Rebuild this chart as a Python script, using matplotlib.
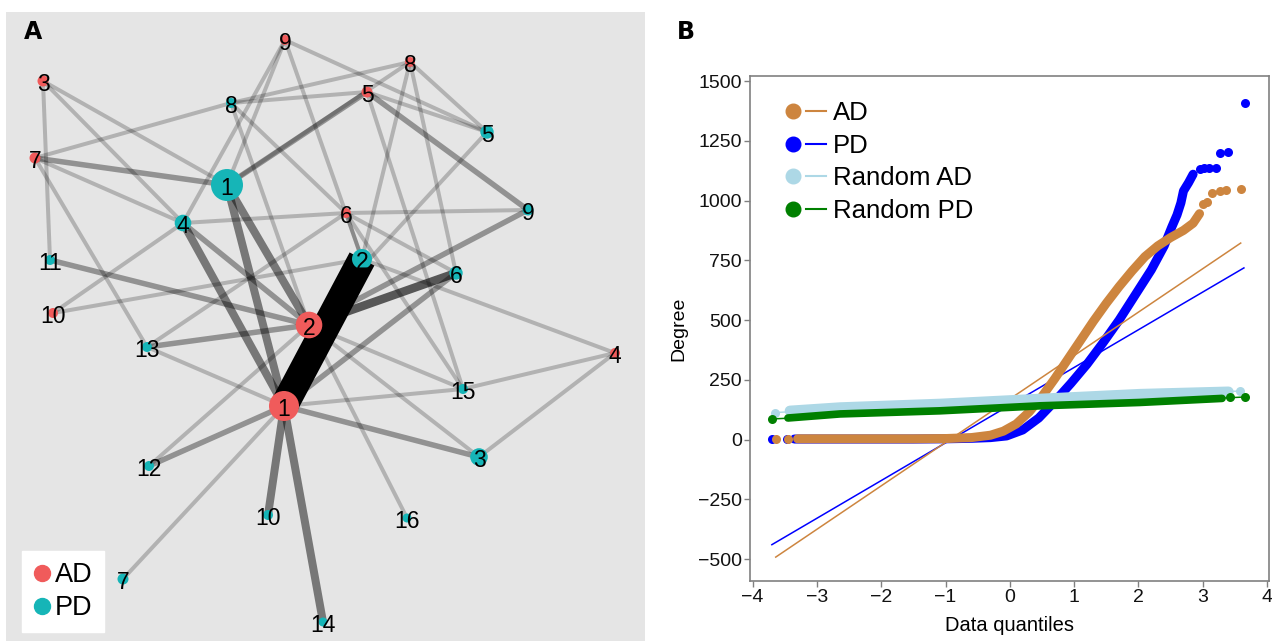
import matplotlib
matplotlib.use('Agg')
import matplotlib.pyplot as plt
from matplotlib.lines import Line2D
from matplotlib.legend_handler import HandlerTuple

plt.rcParams['font.family'] = ['Liberation Sans', 'DejaVu Sans']

# ---------------- panel A : module network ----------------
ad_red = '#F05B5B'
pd_teal = '#16B5B7'

# node -> (x, y) of the drawn layout (pixel units of panel A)
layout = {
    'AD1': (284, 406), 'AD2': (309, 325), 'AD3': (43, 81), 'AD4': (615, 353),
    'AD5': (367, 92), 'AD6': (346, 213), 'AD7': (35, 158), 'AD8': (410, 62),
    'AD9': (285, 40), 'AD10': (53, 313),
    'PD1': (227, 185), 'PD2': (362, 259), 'PD3': (479, 457), 'PD4': (183, 223),
    'PD5': (487, 132), 'PD6': (456, 273), 'PD7': (123, 579), 'PD8': (231, 103),
    'PD9': (528, 210), 'PD10': (268, 515), 'PD11': (50, 260), 'PD12': (149, 466),
    'PD13': (147, 347), 'PD14': (323, 622), 'PD15': (463, 389), 'PD16': (407, 518),
}
# node radius (px)
node_radius = {
    'AD1': 15, 'AD2': 13.3, 'AD3': 5.5, 'AD4': 5, 'AD5': 5.5, 'AD6': 5,
    'AD7': 5.5, 'AD8': 5, 'AD9': 5, 'AD10': 5,
    'PD1': 16, 'PD2': 10, 'PD3': 8.8, 'PD4': 8.3, 'PD5': 6.7, 'PD6': 6.7,
    'PD7': 5.5, 'PD8': 5, 'PD9': 5.5, 'PD10': 5, 'PD11': 5, 'PD12': 5,
    'PD13': 5, 'PD14': 4.5, 'PD15': 5, 'PD16': 4.5,
}
# edges (AD module, PD module, weight)
edges = [
    ('AD1', 'PD2', 10), ('AD1', 'PD1', 3), ('AD1', 'PD4', 3), ('AD1', 'PD10', 3),
    ('AD1', 'PD14', 3), ('AD1', 'PD12', 2), ('AD1', 'PD3', 2), ('AD1', 'PD6', 2),
    ('AD1', 'PD13', 1), ('AD1', 'PD15', 1), ('AD1', 'PD7', 1),
    ('AD2', 'PD1', 3), ('AD2', 'PD6', 4), ('AD2', 'PD9', 2), ('AD2', 'PD4', 2),
    ('AD2', 'PD11', 2), ('AD2', 'PD13', 2), ('AD2', 'PD12', 1), ('AD2', 'PD15', 1),
    ('AD2', 'PD3', 1), ('AD2', 'PD16', 1), ('AD2', 'PD8', 1), ('AD2', 'PD5', 1),
    ('AD3', 'PD11', 1), ('AD3', 'PD1', 1), ('AD3', 'PD4', 1),
    ('AD4', 'PD15', 1), ('AD4', 'PD3', 1), ('AD4', 'PD2', 1),
    ('AD5', 'PD1', 2), ('AD5', 'PD8', 1), ('AD5', 'PD5', 1), ('AD5', 'PD9', 2),
    ('AD5', 'PD15', 1),
    ('AD6', 'PD8', 1), ('AD6', 'PD4', 1), ('AD6', 'PD9', 1), ('AD6', 'PD13', 1),
    ('AD6', 'PD6', 1), ('AD6', 'PD2', 1), ('AD6', 'PD15', 1),
    ('AD7', 'PD8', 1), ('AD7', 'PD1', 2), ('AD7', 'PD4', 1), ('AD7', 'PD13', 1),
    ('AD8', 'PD8', 1), ('AD8', 'PD5', 1), ('AD8', 'PD2', 1), ('AD8', 'PD6', 1),
    ('AD8', 'PD1', 1),
    ('AD9', 'PD1', 1), ('AD9', 'PD4', 1), ('AD9', 'PD2', 1), ('AD9', 'PD5', 1),
    ('AD10', 'PD4', 1), ('AD10', 'PD2', 1),
]

# ---------------- panel B : QQ plot ----------------
ad_q = [-3.3, -3.0, -2.5, -2.0, -1.5, -1.0, -0.6, -0.3, -0.1, 0.1, 0.3, 0.5, 0.7,
        0.9, 1.1, 1.3, 1.5, 1.7, 1.9, 2.1, 2.3, 2.5, 2.7, 2.85, 2.95]
ad_deg = [3, 3, 3, 3, 3, 4, 8, 18, 35, 65, 115, 180, 255, 335, 415, 495, 570,
          640, 705, 765, 810, 845, 875, 905, 945]
ad_tail_q = [-3.64, -3.45, 3.01, 3.06, 3.15, 3.27, 3.36, 3.60]
ad_tail_deg = [3, 3, 985, 992, 1033, 1040, 1042, 1050]
ad_fit_q = [-3.64, 3.59]
ad_fit_deg = [-492, 822]

pd_q = [-3.35, -3.0, -2.5, -2.0, -1.5, -1.0, -0.6, -0.3, -0.05, 0.2, 0.45, 0.7,
        0.95, 1.2, 1.45, 1.7, 1.95, 2.2, 2.4, 2.52, 2.6, 2.66, 2.7, 2.78, 2.85]
pd_deg = [2, 2, 2, 2, 2, 3, 5, 8, 15, 40, 90, 160, 235, 315, 405, 500, 605, 710,
          810, 890, 940, 990, 1040, 1075, 1110]
pd_tail_q = [-3.70, -3.47, 2.95, 3.02, 3.10, 3.21, 3.27, 3.40, 3.66]
pd_tail_deg = [3, 3, 1130, 1138, 1135, 1135, 1198, 1202, 1410]
pd_fit_q = [-3.70, 3.64]
pd_fit_deg = [-440, 718]

rad_q = [-3.42, -2.64, -1.09, 0.47, 2.02, 3.40]
rad_deg = [120, 134, 149, 170, 190, 200]
rad_tail_q = [-3.65, 3.58]
rad_tail_deg = [113, 203]

rpd_q = [-3.45, -2.64, -1.09, 0.47, 2.02, 3.30]
rpd_deg = [90, 107, 120, 141, 155, 172]
rpd_tail_q = [-3.70, 3.42, 3.66]
rpd_tail_deg = [86, 178, 178]

series_names = ['AD', 'PD', 'Random AD', 'Random PD']
series_colors = ['peru', 'blue', 'lightblue', 'green']

W, H = 1272, 641
fig = plt.figure(figsize=(W / 100, H / 100), dpi=100)

# ---- A ----
axA = fig.add_axes([6 / W, 0, 639 / W, 629 / H])
axA.set_facecolor('#e5e5e5')
axA.set_xlim(6, 645)
axA.set_ylim(641, 12)
axA.set_xticks([])
axA.set_yticks([])
for s in axA.spines.values():
    s.set_visible(False)

edge_width = {1: 4, 2: 5.5, 3: 8, 4: 8.5, 10: 28}
edge_alpha = {1: 0.22, 2: 0.36, 3: 0.48, 4: 0.62, 10: 1.0}
for a, b, w in edges:
    x1, y1 = layout[a]
    x2, y2 = layout[b]
    axA.plot([x1, x2], [y1, y2], color='black', lw=edge_width[w] * 0.72,
             alpha=edge_alpha[w], solid_capstyle='butt', zorder=1)

for node, (x, y) in layout.items():
    col = ad_red if node.startswith('AD') else pd_teal
    r = node_radius[node]
    axA.scatter([x], [y], s=(2 * r * 0.72) ** 2, color=col, edgecolors='none', zorder=3)
    axA.text(x, y + 1, node[2:], fontsize=16.5, ha='center', va='center_baseline',
             color='black', zorder=4)

legA = [Line2D([], [], ls='', marker='o', ms=11.5, color=ad_red, label='AD'),
        Line2D([], [], ls='', marker='o', ms=11.5, color=pd_teal, label='PD')]
lg = axA.legend(handles=legA, loc='lower left', bbox_to_anchor=(16 / 639, 9 / 629),
                borderaxespad=0, fontsize=19.5, frameon=True, fancybox=False,
                facecolor='white', edgecolor='white', framealpha=1,
                handlelength=0.7, handletextpad=0.12, labelspacing=0.26, borderpad=0.4)

fig.text(33 / W, 1 - 32 / H, 'A', fontsize=17, fontweight='bold', family='DejaVu Sans',
         ha='center', va='center')

# ---- B ----
axB = fig.add_axes([750 / W, 1 - 581 / H, 519 / W, 505 / H])
ms = 6.5
band = 6.5
axB.plot(pd_q, pd_deg, color='blue', lw=band, solid_capstyle='round', zorder=2)
axB.plot(pd_tail_q, pd_tail_deg, 'o', color='blue', ms=ms, mec='none', zorder=2)
axB.plot(pd_fit_q, pd_fit_deg, color='blue', lw=1.1, zorder=2)
axB.plot(ad_q, ad_deg, color='peru', lw=band, solid_capstyle='round', zorder=3)
axB.plot(ad_tail_q, ad_tail_deg, 'o', color='peru', ms=ms, mec='none', zorder=3)
axB.plot(ad_fit_q, ad_fit_deg, color='peru', lw=1.1, zorder=3)
axB.plot(rad_q, rad_deg, color='lightblue', lw=band + 1, solid_capstyle='round', zorder=4)
axB.plot(rad_tail_q, rad_tail_deg, 'o-', color='lightblue', ms=ms, mec='none', lw=1, zorder=4)
axB.plot(rpd_q, rpd_deg, color='green', lw=band - 1, solid_capstyle='round', zorder=5)
axB.plot(rpd_tail_q, rpd_tail_deg, 'o', color='green', ms=ms, mec='none', zorder=5)
axB.plot([rpd_tail_q[0], rpd_tail_q[-1]], [rpd_tail_deg[0], rpd_tail_deg[-1]],
         color='green', lw=1.1, zorder=5)

axB.set_xlim(-4.04, 4.03)
axB.set_ylim(-592, 1521)
axB.set_xticks(range(-4, 5))
axB.set_yticks(range(-500, 1501, 250))
for s in axB.spines.values():
    s.set_color('#808080')
    s.set_linewidth(1.2)
axB.tick_params(direction='out', length=4, width=1, color='#808080', labelsize=14,
                labelcolor='#111111', pad=2)
axB.set_xlabel('Data quantiles', fontsize=14.5)
axB.set_ylabel('Degree', fontsize=14)
axB.xaxis.set_label_coords(0.5, -0.07)
axB.yaxis.set_label_coords(-0.12, 0.5)

legB = []
for c in series_colors:
    legB.append((Line2D([], [], ls='', marker='o', ms=10.5, color=c),
                 Line2D([], [], color=c, lw=1.5)))
axB.legend(legB, series_names, handler_map={tuple: HandlerTuple(ndivide=None, pad=0.12)},
           loc='upper left', bbox_to_anchor=(33 / 519, 0.950), borderaxespad=0,
           borderpad=0, frameon=False, fontsize=18.5, handlelength=1.67,
           handletextpad=0.27, labelspacing=0.33)

fig.text(686 / W, 1 - 32 / H, 'B', fontsize=17, fontweight='bold', family='DejaVu Sans',
         ha='center', va='center')

fig.savefig('out.png', dpi=100, facecolor='white')
